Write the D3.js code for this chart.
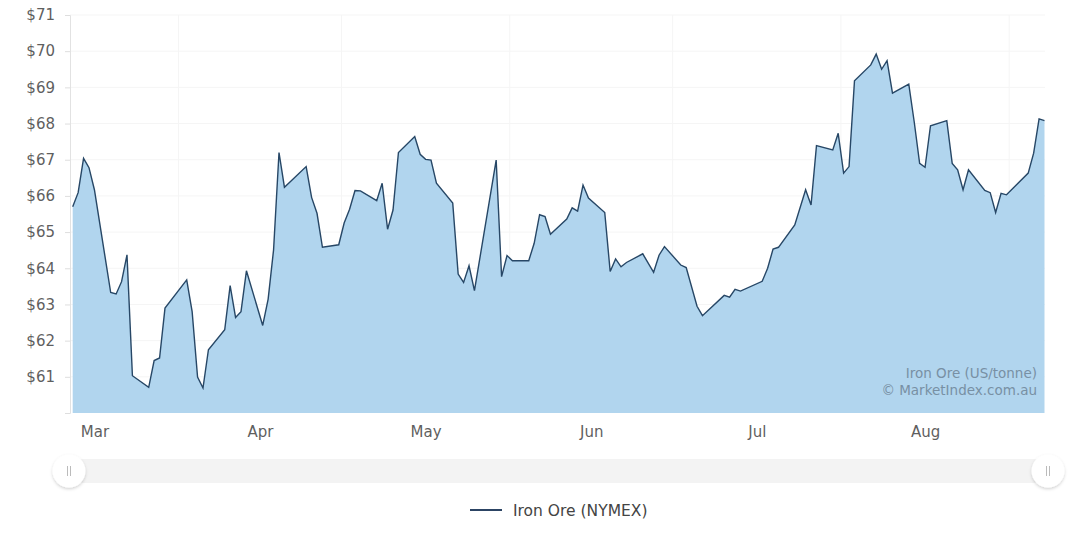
<!DOCTYPE html>
<html><head><meta charset="utf-8">
<script src="https://cdn.jsdelivr.net/npm/d3@7"></script>
<style>html,body{margin:0;padding:0;background:#fff;} svg{display:block;font-family:"DejaVu Sans",Verdana,sans-serif;}</style>
</head><body><svg id="c" width="1080" height="533"></svg>
<script>
// ---- data ----
const dates = [
"2018-03-12","2018-03-13","2018-03-14","2018-03-15","2018-03-16",
"2018-03-19","2018-03-20","2018-03-21","2018-03-22","2018-03-23",
"2018-03-26","2018-03-27","2018-03-28","2018-03-29",
"2018-04-02","2018-04-03","2018-04-04","2018-04-05","2018-04-06",
"2018-04-09","2018-04-10","2018-04-11","2018-04-12","2018-04-13",
"2018-04-16","2018-04-17","2018-04-18","2018-04-19","2018-04-20",
"2018-04-24","2018-04-25","2018-04-26","2018-04-27",
"2018-04-30","2018-05-01","2018-05-02","2018-05-03","2018-05-04",
"2018-05-07","2018-05-08","2018-05-09","2018-05-10","2018-05-11",
"2018-05-14","2018-05-15","2018-05-16","2018-05-17","2018-05-18",
"2018-05-21","2018-05-22","2018-05-23","2018-05-24","2018-05-25",
"2018-05-29","2018-05-30","2018-05-31","2018-06-01",
"2018-06-04","2018-06-05","2018-06-06","2018-06-07","2018-06-08",
"2018-06-11","2018-06-12","2018-06-13","2018-06-14","2018-06-15",
"2018-06-18","2018-06-19","2018-06-20","2018-06-21","2018-06-22",
"2018-06-25","2018-06-27","2018-06-28","2018-06-29",
"2018-07-02","2018-07-03","2018-07-05","2018-07-06",
"2018-07-10","2018-07-11","2018-07-12","2018-07-13",
"2018-07-17","2018-07-18","2018-07-19","2018-07-20",
"2018-07-23","2018-07-25","2018-07-26","2018-07-27",
"2018-07-30","2018-07-31","2018-08-01","2018-08-02","2018-08-03",
"2018-08-06","2018-08-07","2018-08-08","2018-08-09","2018-08-10",
"2018-08-13","2018-08-14","2018-08-15","2018-08-16","2018-08-17",
"2018-08-20","2018-08-21","2018-08-22","2018-08-23","2018-08-24",
"2018-08-27","2018-08-28","2018-08-29","2018-08-30","2018-08-31",
"2018-09-04","2018-09-05","2018-09-06","2018-09-07"
];
const values = [
65.70,66.09,67.04,66.78,66.17,
63.33,63.29,63.63,64.37,61.03,
60.71,61.45,61.52,62.90,
63.68,62.80,60.99,60.69,61.75,
62.30,63.52,62.64,62.80,63.93,
62.42,63.15,64.51,67.20,66.24,
66.81,65.96,65.52,64.58,
64.65,65.25,65.63,66.15,66.14,
65.87,66.35,65.08,65.61,67.20,
67.64,67.15,67.01,66.99,66.35,
65.80,63.84,63.61,64.07,63.38,
66.99,63.77,64.35,64.21,
64.21,64.69,65.48,65.43,64.94,
65.36,65.67,65.58,66.30,65.94,
65.54,63.91,64.26,64.04,64.16,
64.40,63.89,64.36,64.60,
64.09,64.02,62.95,62.69,
63.25,63.20,63.42,63.37,
63.64,64.00,64.53,64.58,
65.20,66.17,65.75,67.39,
67.27,67.73,66.63,66.81,69.18,
69.62,69.92,69.50,69.74,68.84,
69.09,68.05,66.90,66.79,67.94,
68.08,66.90,66.72,66.17,66.72,
66.15,66.09,65.54,66.07,66.03,
66.63,67.18,68.13,68.08
];
const yTicks = [60,61,62,63,64,65,66,67,68,69,70,71];
const monthStarts = ["2018-03-01","2018-04-01","2018-05-01","2018-06-01","2018-07-01","2018-08-01","2018-09-01"];
const seriesName = "Iron Ore (NYMEX)";
const watermark = ["Iron Ore (US/tonne)", "\u00A9 MarketIndex.com.au"];

// ---- drawing ----
const svg = d3.select("#c");
const parseNoon = s => new Date(s + "T12:00:00Z");
const parseMid = s => new Date(s + "T00:00:00Z");
const data = dates.map((d, i) => ({date: parseNoon(d), value: values[i]}));

const x = d3.scaleUtc().domain(d3.extent(data, d => d.date)).range([72.7, 1044.5]);
const y = d3.scaleLinear().domain([60, 71]).range([413, 15]);

const gridColor = "#f5f5f5";
// grid
const grid = svg.append("g");
grid.selectAll("line.h").data(yTicks.slice(1)).join("line")
  .attr("x1", 70).attr("x2", 1045)
  .attr("y1", d => y(d)).attr("y2", d => y(d))
  .attr("stroke", gridColor).attr("stroke-width", 1);
const monthDates = monthStarts.map(parseMid);
grid.selectAll("line.v").data(monthDates.slice(1)).join("line")
  .attr("x1", d => x(d)).attr("x2", d => x(d))
  .attr("y1", y(71)).attr("y2", y(60))
  .attr("stroke", gridColor).attr("stroke-width", 1);

// area + line
const area = d3.area().x(d => x(d.date)).y0(y(60)).y1(d => y(d.value));
const line = d3.line().x(d => x(d.date)).y(d => y(d.value));
svg.append("path").datum(data).attr("d", area).attr("fill", "#b1d5ee");
svg.append("path").datum(data).attr("d", line)
  .attr("fill", "none").attr("stroke", "#274766").attr("stroke-width", 1.4)
  .attr("stroke-linejoin", "miter");

// y axis
const yAxis = svg.append("g").attr("transform", "translate(70,0)")
  .call(d3.axisLeft(y).tickValues(yTicks).tickSize(5).tickPadding(10)
    .tickFormat(d => d === 60 ? "" : "$" + d));
yAxis.select(".domain").attr("stroke", "#e2e2e2");
yAxis.selectAll(".tick line").attr("stroke", "#dedede");
yAxis.selectAll("text").attr("fill", "#5f5f5f").style("font-size", "15px")
  .style("font-family", "DejaVu Sans, Verdana, sans-serif");

// x axis (labels centred in month cells)
const midMonths = monthDates.slice(0, -1).map((d, i) => new Date((+d + +monthDates[i + 1]) / 2));
const xAxis = svg.append("g").attr("transform", "translate(0,413)")
  .call(d3.axisBottom(x).tickValues(midMonths).tickSize(0).tickPadding(13)
    .tickFormat(d3.utcFormat("%b")));
xAxis.select(".domain").remove();
xAxis.selectAll("text").attr("fill", "#5f5f5f").style("font-size", "15px")
  .style("font-family", "DejaVu Sans, Verdana, sans-serif");

// watermark
svg.append("g").selectAll("text").data(watermark).join("text")
  .attr("x", 1037).attr("y", (d, i) => 378 + i * 17)
  .attr("text-anchor", "end").attr("fill", "#7890a4")
  .style("font-size", "13.5px").text(d => d);

// scrollbar
const defs = svg.append("defs");
const f = defs.append("filter").attr("id", "sh").attr("x", "-50%").attr("y", "-50%").attr("width", "200%").attr("height", "200%");
f.append("feDropShadow").attr("dx", 0).attr("dy", 1.5).attr("stdDeviation", 1.6)
  .attr("flood-color", "#000").attr("flood-opacity", 0.18);
svg.append("rect").attr("x", 69).attr("y", 459).attr("width", 979).attr("height", 24).attr("fill", "#f3f3f3");
[69, 1048].forEach(cx => {
  const g = svg.append("g").attr("transform", `translate(${cx},471)`);
  g.append("circle").attr("r", 16.5).attr("fill", "#fff").attr("filter", "url(#sh)");
  [-1.5, 1.5].forEach(dx => g.append("line").attr("x1", dx).attr("x2", dx)
    .attr("y1", -5).attr("y2", 5).attr("stroke", "#bbb").attr("stroke-width", 1));
});

// legend
const lg = svg.append("g");
lg.append("line").attr("x1", 470).attr("x2", 502).attr("y1", 510).attr("y2", 510)
  .attr("stroke", "#2c4464").attr("stroke-width", 2);
lg.append("text").attr("x", 513).attr("y", 515.5).attr("fill", "#444")
  .style("font-size", "15.5px").text(seriesName);
</script></body></html>
